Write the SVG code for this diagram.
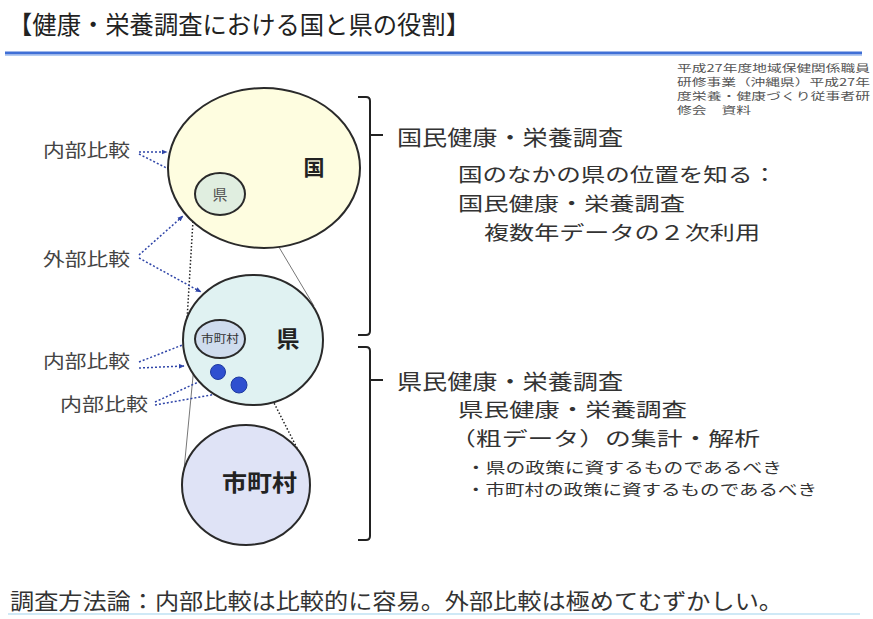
<svg xmlns="http://www.w3.org/2000/svg" width="873" height="619" viewBox="0 0 873 619">
<style>
text{font-family:"Noto Sans CJK JP","Noto Sans",sans-serif;fill:#333}
.big{font-size:19.5px}
.lbl{font-size:18px;fill:#444}
.cit{font-size:10px;fill:#555}
.circ{stroke:#2a2a2a;stroke-width:2}
.arr{stroke:#2f45a8;stroke-width:1.5;stroke-dasharray:2 2;fill:none;marker-end:url(#ah)}
.brk{stroke:#222;stroke-width:2;fill:none}
</style>
<defs>
<marker id="ah" viewBox="0 0 10 10" refX="9" refY="5" markerWidth="6" markerHeight="6" orient="auto" markerUnits="userSpaceOnUse">
<path d="M0,1 L10,5 L0,9 z" fill="#2f45a8"/>
</marker>
</defs>
<rect width="873" height="619" fill="#ffffff"/>
<g id="title">
<text x="8" y="34" font-size="25" textLength="462" lengthAdjust="spacingAndGlyphs" style="fill:#222">【健康・栄養調査における国と県の役割】</text>
<line x1="5" y1="53" x2="862" y2="53" stroke="#3f6fd6" stroke-width="3"/>
<line x1="5" y1="55.5" x2="862" y2="55.5" stroke="#b4ccf2" stroke-width="1"/>
</g>
<g id="citation">
<text class="cit" x="677" y="72" textLength="193" lengthAdjust="spacingAndGlyphs">平成27年度地域保健関係職員</text>
<text class="cit" x="677" y="86" textLength="193" lengthAdjust="spacingAndGlyphs">研修事業（沖縄県）平成27年</text>
<text class="cit" x="677" y="100" textLength="193" lengthAdjust="spacingAndGlyphs">度栄養・健康づくり従事者研</text>
<text class="cit" x="677" y="114" textLength="74" lengthAdjust="spacingAndGlyphs">修会　資料</text>
</g>
<g id="connectors">
<line x1="194" y1="204" x2="187" y2="320" stroke="#222" stroke-width="1.5" stroke-dasharray="1.5 2"/>
<line x1="245" y1="190" x2="314" y2="306" stroke="#777" stroke-width="1"/>
<line x1="196" y1="345" x2="184" y2="470" stroke="#777" stroke-width="1"/>
<line x1="244" y1="344" x2="298" y2="450" stroke="#222" stroke-width="1.5" stroke-dasharray="1.5 2"/>
<line class="arr" x1="139" y1="152" x2="167" y2="152"/>
<line class="arr" x1="139" y1="154" x2="196" y2="183"/>
<line class="arr" x1="139" y1="255" x2="183" y2="216"/>
<line class="arr" x1="139" y1="258" x2="201" y2="292"/>
<line class="arr" x1="139" y1="362" x2="190" y2="342"/>
<line class="arr" x1="139" y1="368" x2="184" y2="366"/>
<line class="arr" x1="155" y1="402" x2="207" y2="378"/>
<line class="arr" x1="155" y1="405" x2="228" y2="392"/>
</g>
<g id="kuni">
<ellipse class="circ" cx="264" cy="168" rx="96" ry="80" fill="#fefde0"/>
<text x="314" y="175" text-anchor="middle" font-size="21" font-weight="bold" style="fill:#222">国</text>
</g>
<g id="ken-small">
<ellipse class="circ" cx="220" cy="194" rx="25" ry="21" fill="#e0eee0"/>
<text x="220" y="200" text-anchor="middle" font-size="15" style="fill:#555">県</text>
</g>
<g id="ken">
<ellipse class="circ" cx="253" cy="340" rx="70" ry="65" fill="#e0f2f2"/>
<text x="288" y="347" text-anchor="middle" font-size="23" font-weight="bold" style="fill:#222">県</text>
</g>
<g id="shichoson-small">
<ellipse class="circ" cx="220" cy="339" rx="25" ry="19" fill="#cfdcee"/>
<text x="220" y="343" text-anchor="middle" font-size="11" textLength="38" lengthAdjust="spacingAndGlyphs" style="fill:#333">市町村</text>
</g>
<g id="dots">
<circle cx="218" cy="372" r="7.5" fill="#2f4fd0" stroke="#1e3aa0" stroke-width="1"/>
<circle cx="239" cy="385" r="8" fill="#2f4fd0" stroke="#1e3aa0" stroke-width="1"/>
</g>
<g id="shichoson">
<ellipse class="circ" cx="246" cy="485" rx="64" ry="60" fill="#dfe3f6"/>
<text x="222" y="491" font-size="23" font-weight="bold" textLength="75" lengthAdjust="spacingAndGlyphs" style="fill:#222">市町村</text>
</g>
<g id="labels">
<text class="lbl" x="43" y="157" textLength="87" lengthAdjust="spacingAndGlyphs">内部比較</text>
<text class="lbl" x="43" y="266" textLength="87" lengthAdjust="spacingAndGlyphs">外部比較</text>
<text class="lbl" x="43" y="368" textLength="87" lengthAdjust="spacingAndGlyphs">内部比較</text>
<text class="lbl" x="60" y="411" textLength="88" lengthAdjust="spacingAndGlyphs">内部比較</text>
</g>
<g id="bracket-national">
<path class="brk" d="M358,97 H366 Q370,97 370,101 V331 Q370,335 366,335 H358 M370,135 H383"/>
<text x="397" y="145" font-size="21" textLength="226" lengthAdjust="spacingAndGlyphs">国民健康・栄養調査</text>
<text class="big" x="458" y="182" textLength="319" lengthAdjust="spacingAndGlyphs">国のなかの県の位置を知る：</text>
<text class="big" x="458" y="211" textLength="227" lengthAdjust="spacingAndGlyphs">国民健康・栄養調査</text>
<text class="big" x="484" y="240" textLength="276" lengthAdjust="spacingAndGlyphs">複数年データの２次利用</text>
</g>
<g id="bracket-prefecture">
<path class="brk" d="M358,347 H366 Q370,347 370,351 V536 Q370,540 366,540 H358 M370,380 H383"/>
<text x="397" y="389" font-size="21" textLength="226" lengthAdjust="spacingAndGlyphs">県民健康・栄養調査</text>
<text class="big" x="458" y="417" textLength="229" lengthAdjust="spacingAndGlyphs">県民健康・栄養調査</text>
<text class="big" x="450" y="446" textLength="310" lengthAdjust="spacingAndGlyphs">（粗データ）の集計・解析</text>
<text x="466" y="473" font-size="15" textLength="316" lengthAdjust="spacingAndGlyphs">・県の政策に資するものであるべき</text>
<text x="466" y="495" font-size="15" textLength="351" lengthAdjust="spacingAndGlyphs">・市町村の政策に資するものであるべき</text>
</g>
<g id="footer">
<text x="10" y="609" font-size="22" textLength="773" lengthAdjust="spacingAndGlyphs">調査方法論：内部比較は比較的に容易。外部比較は極めてむずかしい。</text>
<line x1="8" y1="614" x2="860" y2="614" stroke="#cfe9f6" stroke-width="2"/>
</g>
</svg>
